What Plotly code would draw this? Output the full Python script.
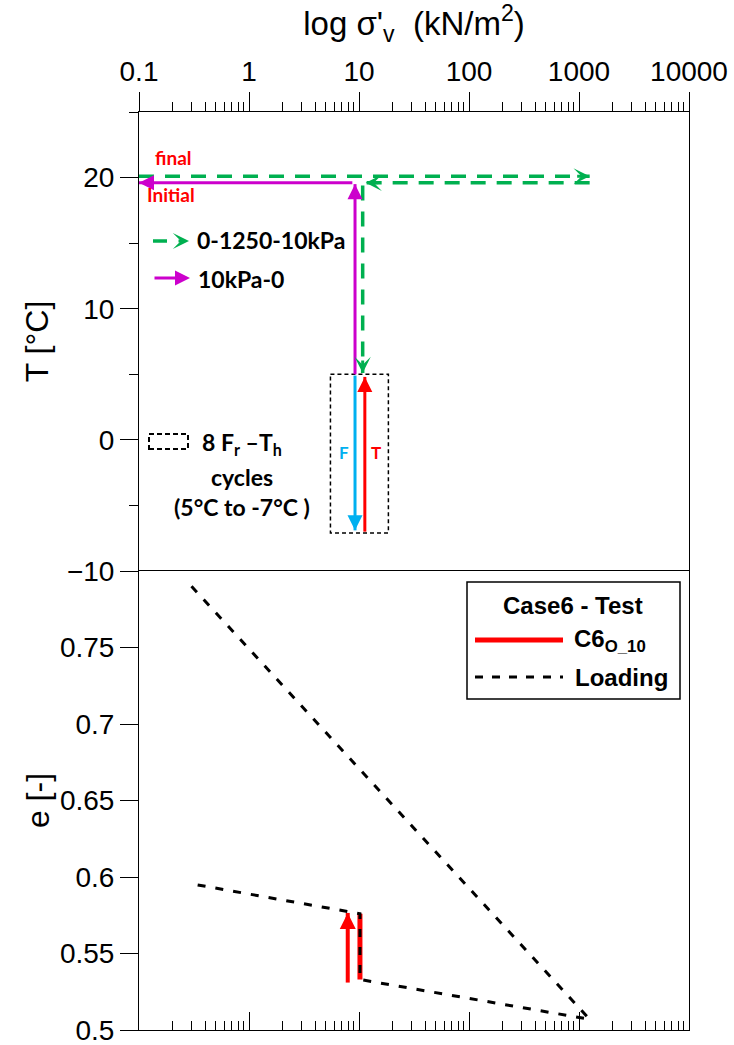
import numpy as np
import plotly.graph_objects as go

# ---------------- data ----------------
# Top panel: temperature path T [°C] vs vertical effective stress [kN/m2]
green_s = [0.1, 1250, None, 1250, 11.5, None, 10.8, 10.8]
green_T = [20.1, 20.1, None, 19.6, 19.6, None, 19.4, 5.1]
magenta_s = [9.2, 9.2, None, 8.7, 0.1]
magenta_T = [5.0, 19.5, None, 19.6, 19.6]
freeze_s = [9.2, 9.2]
freeze_T = [4.9, -6.9]
thaw_s = [11.3, 11.3]
thaw_T = [-7.0, 4.8]
box_s = [5.5, 18.5, 18.5, 5.5, 5.5]
box_T = [5.0, 5.0, -7.1, -7.1, 5.0]

# Bottom panel: void ratio e [-] vs vertical effective stress
loading_s = [0.3, 1250, 10.2, 10.2, 0.33]
loading_e = [0.790, 0.507, 0.533, 0.576, 0.595]
c6_s = [10.2, 10.2]
c6_e = [0.533, 0.576]
c6_arrow_s = [7.9, 7.9]
c6_arrow_e = [0.531, 0.5765]

x_tickvals = [0.1, 1, 10, 100, 1000, 10000]
x_ticktext = ["0.1", "1", "10", "100", "1000", "10000"]
T_tickvals = [-10, 0, 10, 20]
e_tickvals = [0.5, 0.55, 0.6, 0.65, 0.7, 0.75]

# ---------------- style ----------------
ARIAL = "Liberation Sans, Arial, sans-serif"
CAL = "Lato, Carlito, Calibri, sans-serif"
GREEN = "#00B050"
MAG = "#CC00CC"
BLUE = "#00B0F0"
RED = "#FF0000"

W, H = 734, 1045
L, R, T, B = 139, 45, 112, 15
PW, PH = W - L - R, H - T - B


def px(xp):
    return (xp - L) / PW


def py(yp):
    return (H - B - yp) / PH


minor_vals = [k * 10.0 ** d for d in range(-1, 4) for k in range(2, 10)]

fig = go.Figure()

# top panel traces
fig.add_trace(go.Scatter(x=box_s, y=box_T, mode="lines", xaxis="x", yaxis="y",
                         line=dict(color="black", width=1.5, dash="4px,3px")))
fig.add_trace(go.Scatter(x=green_s, y=green_T, mode="lines", xaxis="x", yaxis="y",
                         line=dict(color=GREEN, width=3.5, dash="15px,11px")))
fig.add_trace(go.Scatter(x=magenta_s, y=magenta_T, mode="lines", xaxis="x", yaxis="y",
                         line=dict(color=MAG, width=3)))
fig.add_trace(go.Scatter(x=freeze_s, y=freeze_T, mode="lines", xaxis="x", yaxis="y",
                         line=dict(color=BLUE, width=3)))
fig.add_trace(go.Scatter(x=thaw_s, y=thaw_T, mode="lines", xaxis="x", yaxis="y",
                         line=dict(color=RED, width=3)))

# bottom panel traces
fig.add_trace(go.Scatter(x=c6_s, y=c6_e, mode="lines", xaxis="x2", yaxis="y2",
                         line=dict(color=RED, width=5)))
fig.add_trace(go.Scatter(x=c6_arrow_s, y=c6_arrow_e, mode="lines", xaxis="x2", yaxis="y2",
                         line=dict(color=RED, width=4)))
fig.add_trace(go.Scatter(x=loading_s, y=loading_e, mode="lines", xaxis="x2", yaxis="y2",
                         line=dict(color="black", width=3, dash="8px,10px")))

ann = []
shapes = []


def head(xv, yv, direction, color, xref="x", yref="y", style=2, size=1.0, width=3, tail=14):
    d = {"up": (0, tail), "down": (0, -tail), "left": (tail, 0), "right": (-tail, 0)}[direction]
    ann.append(dict(x=np.log10(xv) if xref.startswith("x") else xv, y=yv, xref=xref, yref=yref,
                    ax=d[0], ay=d[1], axref="pixel", ayref="pixel", text="",
                    showarrow=True, arrowhead=style, arrowsize=size, arrowwidth=width,
                    arrowcolor=color, standoff=0))


# arrowheads at ends of paths
head(green_s[1], green_T[1], "right", GREEN, style=3, size=0.9)
head(green_s[4], green_T[4], "left", GREEN, style=3, size=0.9)
head(green_s[7], green_T[7], "down", GREEN, style=3, size=0.9)
head(magenta_s[1], magenta_T[1], "up", MAG, size=1.0)
head(magenta_s[4], magenta_T[4], "left", MAG, size=1.0)
head(freeze_s[1], freeze_T[1], "down", BLUE, size=1.0)
head(thaw_s[1], thaw_T[1], "up", RED, size=1.0)
head(c6_arrow_s[1], c6_arrow_e[1], "up", RED, xref="x2", yref="y2", size=0.8, width=4)


def text(xp, yp, s, size, color="black", font=CAL, xanchor="center", bold=True):
    ann.append(dict(x=px(xp), y=py(yp), xref="paper", yref="paper", text=(f"<b>{s}</b>" if bold else s),
                    showarrow=False, xanchor=xanchor, yanchor="middle",
                    font=dict(family=font, size=size, color=color)))


# top panel labels
text(173, 157, "final", 19, RED)
text(171, 194, "Initial", 19, RED)
text(195, 240, "0-1250-10kPa", 23, xanchor="left")
text(196, 279, "10kPa-0", 23, xanchor="left")
text(242, 443, "8 F<sub>r</sub> –T<sub>h</sub>", 23)
text(242, 477, "cycles", 23)
text(242, 507, "(5°C to -7°C )", 23)
text(344, 452, "F", 17, BLUE)
text(376, 452, "T", 17, RED)

# legend samples (top panel)
shapes.append(dict(type="line", xref="paper", yref="paper", x0=px(153), x1=px(167), y0=py(241), y1=py(241),
                   line=dict(color=GREEN, width=3.5)))
head(px(189), py(241), "right", GREEN, xref="paper", yref="paper", style=3, size=0.9, tail=12)
ann.append(dict(x=px(190), y=py(278), xref="paper", yref="paper", ax=-37, ay=0, text="",
                showarrow=True, arrowhead=2, arrowsize=1.0, arrowwidth=3, arrowcolor=MAG, standoff=0))
shapes.append(dict(type="rect", xref="paper", yref="paper", x0=px(149), x1=px(188), y0=py(449), y1=py(434),
                   line=dict(color="black", width=2, dash="5px,3px")))

# bottom legend (manual box)
shapes.append(dict(type="rect", xref="paper", yref="paper", x0=px(467), x1=px(680), y0=py(699), y1=py(582),
                   line=dict(color="black", width=1.5), fillcolor="white", layer="below"))
text(573, 605, "Case6 - Test", 24, font=ARIAL)
shapes.append(dict(type="line", xref="paper", yref="paper", x0=px(475), x1=px(563), y0=py(640), y1=py(640),
                   line=dict(color=RED, width=5)))
text(572, 640, "C6<sub>O_10</sub>", 24, font=ARIAL, xanchor="left")
shapes.append(dict(type="line", xref="paper", yref="paper", x0=px(475), x1=px(563), y0=py(677), y1=py(677),
                   line=dict(color="black", width=3, dash="8px,9px")))
text(573, 677, "Loading", 24, font=ARIAL, xanchor="left")

axis_common = dict(type="log", range=[-1, 4], showgrid=False, zeroline=False, automargin=False,
                   showline=True, linecolor="black", linewidth=1,
                   tickcolor="black", tickwidth=1)

fig.update_layout(
    width=W, height=H,
    margin=dict(l=L, r=R, t=T, b=B),
    plot_bgcolor="white", paper_bgcolor="white",
    showlegend=False,
    font=dict(family=ARIAL, color="black"),
    xaxis=dict(**axis_common, anchor="y", side="top", ticks="outside", ticklen=19,
               tickvals=x_tickvals, ticktext=x_ticktext, tickfont=dict(size=28),
               ticklabeloverflow="allow",
               minor=dict(ticks="outside", ticklen=9, tickvals=minor_vals, tickcolor="black"),
               title=dict(text="log σ'<sub>v</sub>  (kN/m<sup>2</sup>)", font=dict(size=33), standoff=10)),
    xaxis3=dict(**axis_common, anchor="y", overlaying="x", side="bottom", ticks="inside", ticklen=18,
                tickvals=x_tickvals, showticklabels=False,
                minor=dict(ticks="inside", ticklen=9, tickvals=minor_vals, tickcolor="black")),
    xaxis2=dict(**axis_common, anchor="y2", side="bottom", ticks="inside", ticklen=18, mirror=True,
                tickvals=x_tickvals, showticklabels=False,
                minor=dict(ticks="inside", ticklen=9, tickvals=minor_vals, tickcolor="black")),
    yaxis=dict(domain=[0.5, 1], range=[-10, 25], showgrid=False, zeroline=False, automargin=False,
               showline=True, linecolor="black", linewidth=1, mirror=True,
               ticks="outside", ticklen=18, tickcolor="black", tickvals=T_tickvals,
               tickfont=dict(size=28), ticklabeloverflow="allow",
               minor=dict(ticks="outside", ticklen=9, tickvals=[-5, 5, 15, 25], tickcolor="black"),
               title=dict(text="T [°C]", font=dict(size=32), standoff=8)),
    yaxis2=dict(domain=[0, 0.5], range=[0.5, 0.8], showgrid=False, zeroline=False, automargin=False,
                showline=True, linecolor="black", linewidth=1, mirror=True,
                ticks="outside", ticklen=18, tickcolor="black", tickvals=e_tickvals,
                tickfont=dict(size=28), ticklabeloverflow="allow",
                title=dict(text="e [-]", font=dict(size=32), standoff=0)),
    annotations=ann,
    shapes=shapes,
)

fig.write_html("out.html")
